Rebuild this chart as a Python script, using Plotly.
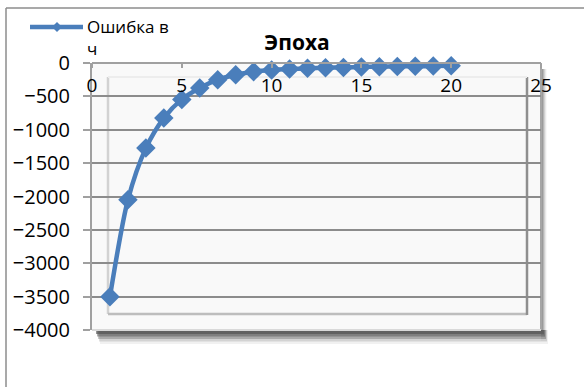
import plotly.graph_objects as go

# Data
epochs = list(range(1, 21))
errors = [-3500, -2050, -1275, -825, -545, -375, -250, -175, -130, -105,
          -90, -80, -72, -66, -60, -56, -52, -49, -46, -43]
x_ticks = [0, 5, 10, 15, 20, 25]
y_ticks = [0, -500, -1000, -1500, -2000, -2500, -3000, -3500, -4000]
series_name = "Ошибка в"
series_name2 = "ч"
title_text = "Эпоха"

W, H = 584, 387
L, R, T, B = 92, 541, 63, 330
BLUE = "#4A7EBB"
FONT = "Open Sans"


def px(x):
    return (x - L) / (R - L)


def py(y):
    return (B - y) / (B - T)


fig = go.Figure()
fig.add_trace(go.Scatter(
    x=epochs, y=errors, mode="lines+markers",
    line=dict(color=BLUE, width=4.5, shape="spline", smoothing=0.8),
    marker=dict(symbol="diamond", size=15, color=BLUE),
    cliponaxis=False, showlegend=False,
))

shapes = []
# outer chart border
shapes.append(dict(type="line", xref="paper", yref="paper", x0=px(6), x1=px(600),
                   y0=py(8), y1=py(8), line=dict(color="#8C8C8C", width=1.5), layer="below"))
shapes.append(dict(type="line", xref="paper", yref="paper", x0=px(6), x1=px(6),
                   y0=py(8), y1=py(400), line=dict(color="#8C8C8C", width=1.5), layer="below"))
# drop shadow
for i, op in enumerate([0.6, 0.45, 0.3, 0.18, 0.08]):
    shapes.append(dict(type="rect", xref="paper", yref="paper",
                       x0=px(96 + i), x1=px(544 + i), y0=py(B), y1=py(B + 4 + 2.5 * i),
                       fillcolor="#4D4D4D", opacity=op, line=dict(width=0), layer="below"))
    shapes.append(dict(type="rect", xref="paper", yref="paper",
                       x0=px(R), x1=px(R + 2 + i), y0=py(T + 6), y1=py(B + 3 + 2 * i),
                       fillcolor="#6D6D6D", opacity=op * 0.6, line=dict(width=0), layer="below"))
# inner back wall
shapes.append(dict(type="line", xref="paper", yref="paper", x0=px(108), x1=px(108),
                   y0=py(77), y1=py(314), line=dict(color="#D2D2D2", width=2.5), layer="below"))
shapes.append(dict(type="line", xref="paper", yref="paper", x0=px(108), x1=px(527),
                   y0=py(314), y1=py(314), line=dict(color="#BDBDBD", width=2.5), layer="below"))
shapes.append(dict(type="line", xref="paper", yref="paper", x0=px(527), x1=px(527),
                   y0=py(77), y1=py(315), line=dict(color="#8F8F8F", width=2.5), layer="below"))
shapes.append(dict(type="line", xref="paper", yref="paper", x0=px(108), x1=px(527),
                   y0=py(77), y1=py(77), line=dict(color="#EDEDED", width=2), layer="below"))
# outer frame right and bottom
shapes.append(dict(type="line", xref="paper", yref="paper", x0=1, x1=1,
                   y0=0, y1=1, line=dict(color="#A6A6A6", width=2), layer="below"))
shapes.append(dict(type="line", xref="paper", yref="paper", x0=0, x1=1,
                   y0=0, y1=0, line=dict(color="#D9D9D9", width=2), layer="below"))
# legend sample
shapes.append(dict(type="line", xref="paper", yref="paper", x0=px(30), x1=px(83),
                   y0=py(27), y1=py(27), line=dict(color=BLUE, width=4.5)))
shapes.append(dict(type="path", xref="paper", yref="paper",
                   path=f"M {px(57)} {py(22)} L {px(62)} {py(27)} L {px(57)} {py(32)} L {px(52)} {py(27)} Z",
                   fillcolor=BLUE, line=dict(width=0)))

annotations = [
    dict(xref="paper", yref="paper", x=px(85), y=py(27), text=series_name,
         showarrow=False, xanchor="left", yanchor="middle",
         font=dict(family=FONT, size=17, color="#000000")),
    dict(xref="paper", yref="paper", x=px(85), y=py(48), text=series_name2,
         showarrow=False, xanchor="left", yanchor="middle",
         font=dict(family=FONT, size=17, color="#000000")),
]

fig.update_layout(
    width=W, height=H,
    margin=dict(l=L, r=W - R, t=T, b=H - B),
    paper_bgcolor="white", plot_bgcolor="#F9F9F9",
    title=dict(text=f"<b>{title_text}</b>", xref="container", x=297 / W, xanchor="center",
               yref="container", y=1 - 43 / H, yanchor="middle",
               font=dict(family=FONT, size=21, color="#000000")),
    font=dict(family=FONT, size=17, color="#000000"),
    shapes=shapes, annotations=annotations, showlegend=False,
)
fig.update_xaxes(
    range=[0, 25], tickvals=x_ticks, side="bottom", anchor="free", position=1,
    showline=True, linecolor="#A0A0A0", linewidth=2,
    ticks="outside", ticklen=4, tickcolor="#A0A0A0", tickwidth=1.5,
    ticklabelstandoff=1,
    showgrid=False, zeroline=False,
    tickfont=dict(family=FONT, size=19, color="#000000"),
)
fig.update_yaxes(
    range=[-4000, 0], tickvals=y_ticks, domain=[0, 1],
    showline=True, linecolor="#A0A0A0", linewidth=2,
    ticks="outside", ticklen=7, tickcolor="#A0A0A0", tickwidth=1.5,
    showgrid=True, gridcolor="#8C8C8C", gridwidth=2, zeroline=False,
    ticklabelstandoff=9,
    tickfont=dict(family=FONT, size=20, color="#000000"),
)

fig.write_html("out.html")
